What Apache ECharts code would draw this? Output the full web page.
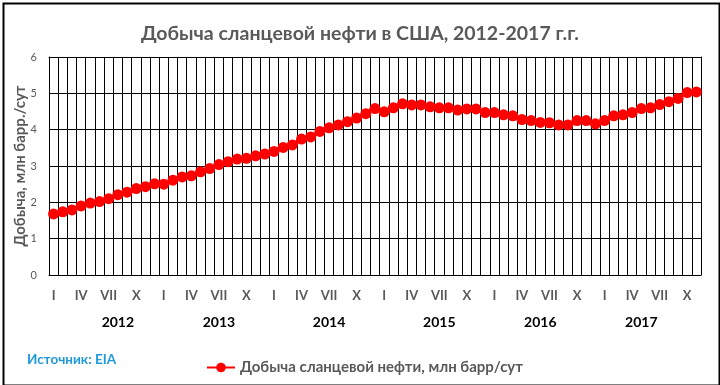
<!DOCTYPE html>
<html>
<head>
<meta charset="utf-8">
<script src="https://cdn.jsdelivr.net/npm/echarts@6/dist/echarts.min.js"></script>
<style>html,body{margin:0;padding:0;background:#fff}#c{width:720px;height:385px}</style>
</head>
<body>
<div id="c"></div>
<script>
// ---- data ----
const years = ['2012', '2013', '2014', '2015', '2016', '2017'];
const quarterLabels = ['I', '', '', 'IV', '', '', 'VII', '', '', 'X', '', ''];
const production = [
  1.68, 1.74, 1.79, 1.90, 1.98, 2.02, 2.10, 2.21, 2.28, 2.38, 2.43, 2.51,
  2.50, 2.61, 2.70, 2.73, 2.84, 2.93, 3.04, 3.12, 3.19, 3.21, 3.28, 3.33,
  3.40, 3.51, 3.58, 3.74, 3.80, 3.95, 4.05, 4.13, 4.22, 4.32, 4.44, 4.58,
  4.49, 4.60, 4.71, 4.68, 4.68, 4.63, 4.60, 4.60, 4.54, 4.57, 4.57, 4.47,
  4.47, 4.41, 4.38, 4.28, 4.25, 4.20, 4.19, 4.13, 4.13, 4.25, 4.25, 4.16,
  4.25, 4.38, 4.41, 4.47, 4.58, 4.60, 4.69, 4.77, 4.86, 5.02, 5.04
];
const seriesName = 'Добыча сланцевой нефти, млн барр/сут';

// ---- layout (month index where each year's label is drawn) ----
const yearLabelAt = [7, 18, 30, 42, 53, 64];

const months = production.map((v, i) => i);
const monthText = months.map(i => quarterLabels[i % 12]);
const yearText = months.map(i => {
  const k = yearLabelAt.indexOf(i);
  return k >= 0 ? years[k] : '';
});

const FONT = 'Lato';
const chart = echarts.init(document.getElementById('c'), null, {renderer: 'canvas'});
chart.setOption({
  animation: false,
  textStyle: {fontFamily: FONT},
  title: [{
    text: 'Добыча сланцевой нефти в США, 2012-2017 г.г.',
    left: 'center', top: 19,
    textStyle: {fontFamily: FONT, fontSize: 19.5, fontWeight: 'bold', color: '#595959'}
  }, {
    text: 'Источник: EIA',
    left: 22, top: 348,
    textStyle: {fontFamily: FONT, fontSize: 13.5, fontWeight: 'bold', color: '#1f9ad8'}
  }],
  legend: {
    data: [seriesName],
    left: 201, top: 355,
    itemWidth: 28, itemHeight: 12, itemGap: 4,
    textStyle: {fontFamily: FONT, fontSize: 15, fontWeight: 'bold', color: '#595959'}
  },
  grid: {left: 49, right: 19, top: 57, bottom: 110, containLabel: false, outerBoundsMode: 'none'},
  xAxis: [{
    type: 'category', data: monthText, boundaryGap: true,
    axisLine: {show: true, lineStyle: {color: '#000', width: 1}},
    axisTick: {show: false},
    splitLine: {show: true, interval: 0, lineStyle: {color: '#000', width: 1}},
    axisLabel: {interval: 0, margin: 14, fontFamily: FONT, fontSize: 13, fontWeight: 'bold', color: '#595959'}
  }, {
    type: 'category', data: yearText, boundaryGap: true, position: 'bottom',
    axisLine: {show: false}, axisTick: {show: false}, splitLine: {show: false},
    axisLabel: {interval: 0, margin: 40, fontFamily: FONT, fontSize: 14, fontWeight: 'bold', color: '#000'}
  }, {
    type: 'category', data: months, boundaryGap: true, position: 'top',
    axisLine: {show: true, lineStyle: {color: '#000'}}, axisTick: {show: false}, axisLabel: {show: false}
  }],
  yAxis: [{
    type: 'value', min: 0, max: 6, interval: 1,
    name: 'Добыча, млн барр./сут', nameLocation: 'middle', nameGap: 21, nameRotate: 90,
    nameMoveOverlap: false,
    nameTextStyle: {fontFamily: FONT, fontSize: 15, fontWeight: 'bold', color: '#595959'},
    axisLine: {show: true, lineStyle: {color: '#000'}},
    axisTick: {show: false},
    splitLine: {show: true, lineStyle: {color: '#000', width: 1}},
    axisLabel: {margin: 12, fontFamily: FONT, fontSize: 11, color: '#595959'}
  }, {
    type: 'value', min: 0, max: 6, interval: 1, position: 'right',
    axisLine: {show: true, lineStyle: {color: '#000'}}, axisTick: {show: false},
    axisLabel: {show: false}, splitLine: {show: false}
  }],
  series: [{
    name: seriesName, type: 'line', data: production, xAxisIndex: 0, yAxisIndex: 0,
    smooth: true, symbol: 'circle', symbolSize: 11,
    lineStyle: {color: '#ff0000', width: 4},
    itemStyle: {color: '#ff0000'}
  }],
  graphic: [{
    type: 'rect', left: 1, top: 1, silent: true,
    shape: {width: 716, height: 382},
    style: {fill: 'none', stroke: '#000', lineWidth: 2}
  }]
});
</script>
</body>
</html>
